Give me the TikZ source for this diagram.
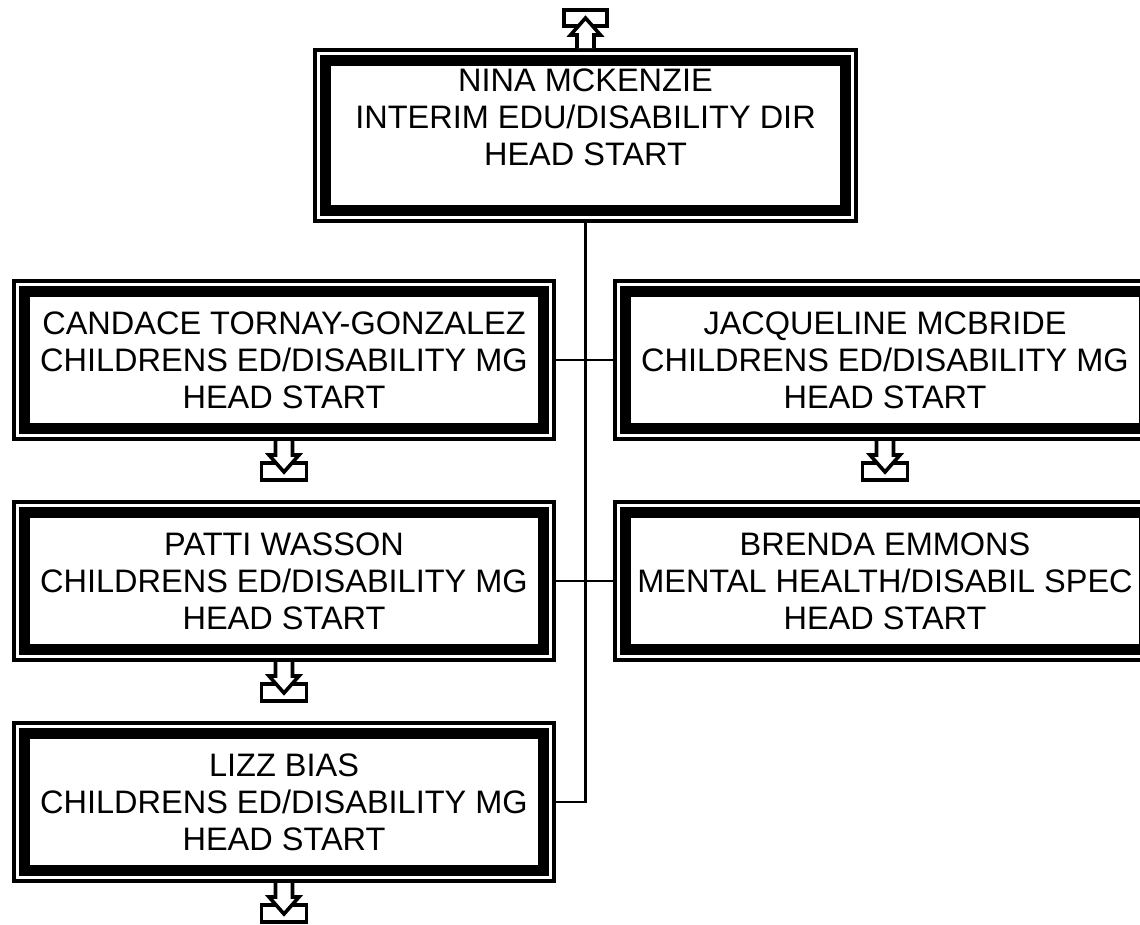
\documentclass[tikz,border=0pt]{standalone}
\usepackage{fontspec}
\setmainfont{Liberation Sans}
\usetikzlibrary{calc}
\newcommand\boxfont{\fontsize{32.5}{37}\selectfont}
\tikzset{
  x=1pt, y=-1pt,
  frame/.style={rectangle, inner sep=0pt, outer sep=0pt,
    path picture={
      \draw[line width=4pt] ([shift={(2pt,-2pt)}]path picture bounding box.north west) rectangle ([shift={(-2pt,2pt)}]path picture bounding box.south east);
      \draw[line width=11pt] ([shift={(12.5pt,-12.5pt)}]path picture bounding box.north west) rectangle ([shift={(-12.5pt,12.5pt)}]path picture bounding box.south east);
    }},
  orgbox/.style={frame, minimum width=544pt, minimum height=162pt, align=center, font=\boxfont},
  txt/.style={align=center, font=\boxfont, inner sep=0pt},
  conn/.style={line width=2.2pt},
  icon/.style={line width=3.6pt, fill=white, line join=miter},
  downicon/.pic={
    \draw[icon] (-22.5,22) rectangle (22.5,39);
    \draw[icon] (-8.5,0) -- (-8.5,14) -- (-15,14) -- (0,31) -- (15,14) -- (8.5,14) -- (8.5,0);
  },
  upicon/.pic={
    \draw[icon] (-21.5,-22) rectangle (21.5,-38);
    \draw[icon] (-8.5,0) -- (-8.5,-13) -- (-15,-13) -- (0,-30) -- (15,-13) -- (8.5,-13) -- (8.5,0);
  }
}
\begin{document}
\begin{tikzpicture}
\useasboundingbox (0,0) rectangle (1140,924);
\clip (0,0) rectangle (1140,924);

% top box
\node[frame, minimum width=545pt, minimum height=175pt] (top) at (585.5,135.5) {};
\node[txt] (toptext) at (585.5,117) {NINA MCKENZIE\\INTERIM EDU/DISABILITY DIR\\HEAD START};

% left column
\node[orgbox] (cand) at (284,360) {CANDACE TORNAY-GONZALEZ\\CHILDRENS ED/DISABILITY MG\\HEAD START};
\node[orgbox] (patti) at (284,581) {PATTI WASSON\\CHILDRENS ED/DISABILITY MG\\HEAD START};
\node[orgbox] (lizz) at (284,802) {LIZZ BIAS\\CHILDRENS ED/DISABILITY MG\\HEAD START};

% right column
\node[orgbox] (jac) at (885,360) {JACQUELINE MCBRIDE\\CHILDRENS ED/DISABILITY MG\\HEAD START};
\node[orgbox] (brenda) at (885,581) {BRENDA EMMONS\\MENTAL HEALTH/DISABIL SPEC\\HEAD START};

% connectors
\coordinate (trunk) at (lizz.east -| top.south);
\draw[conn] (top.south) -- (trunk) -- (lizz.east);
\draw[conn] (cand.east) -- (jac.west);
\draw[conn] (patti.east) -- (brenda.west);

% icons
\pic at (top.north) {upicon};
\pic at (cand.south) {downicon};
\pic at (patti.south) {downicon};
\pic at (lizz.south) {downicon};
\pic at (jac.south) {downicon};
\end{tikzpicture}
\end{document}
